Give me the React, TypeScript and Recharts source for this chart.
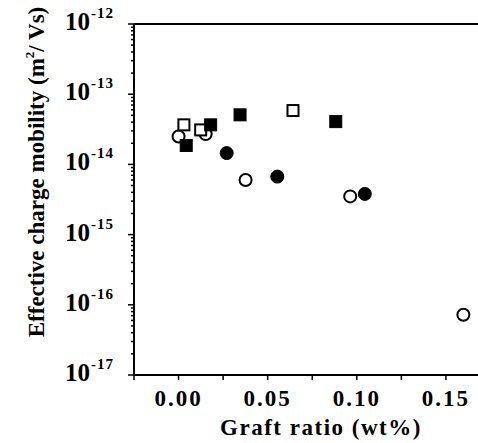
import React from 'react';
import { ScatterChart, Scatter, XAxis, YAxis, ReferenceLine } from 'recharts';

const openCircles = [
  { x: 0.0, y: 2.5e-14 },
  { x: 0.0152, y: 2.7e-14 },
  { x: 0.0376, y: 6.0e-15 },
  { x: 0.0963, y: 3.5e-15 },
  { x: 0.1598, y: 7.2e-17 },
];
const filledCircles = [
  { x: 0.027, y: 1.45e-14 },
  { x: 0.0554, y: 6.7e-15 },
  { x: 0.1045, y: 3.8e-15 },
];
const openSquares = [
  { x: 0.003, y: 3.66e-14 },
  { x: 0.0124, y: 3.1e-14 },
  { x: 0.0642, y: 5.85e-14 },
];
const filledSquares = [
  { x: 0.0043, y: 1.86e-14 },
  { x: 0.018, y: 3.66e-14 },
  { x: 0.0345, y: 5.08e-14 },
  { x: 0.0882, y: 4.07e-14 },
];

const decadeExponents = [-17, -16, -15, -14, -13, -12];
const minorMultipliers = [2, 3, 4, 5, 6, 7, 8, 9];
const xMajorTicks = [0, 0.05, 0.1, 0.15];
const xMinorTicks = [-0.025, 0.025, 0.075, 0.125];
const xTickLabels = ['0.00', '0.05', '0.10', '0.15'];

const yTicks: number[] = [];
decadeExponents.forEach((e) => {
  yTicks.push(Math.pow(10, e));
  if (e < -12) minorMultipliers.forEach((m) => yTicks.push(m * Math.pow(10, e)));
});
const xTicks = [...xMajorTicks, ...xMinorTicks].sort((a, b) => a - b);

const FONT = '"Liberation Serif", "Times New Roman", serif';

const YTick = (props: any) => {
  const { y, payload } = props;
  const v = payload.value;
  const e = Math.round(Math.log10(v));
  const isMajor = Math.abs(v - Math.pow(10, e)) / v < 1e-6;
  const axisX = 134;
  return (
    <g>
      <line x1={axisX - (isMajor ? 6 : 3)} x2={axisX} y1={y} y2={y} stroke="#000" strokeWidth={1.5} />
      {isMajor && (
        <text x={114} y={y + 6} textAnchor="end" fontFamily={FONT} fontWeight="bold" fill="#000">
          <tspan fontSize={25}>10</tspan>
          <tspan fontSize={15} dy={-12} dx={1} letterSpacing={1}>{String(e)}</tspan>
        </text>
      )}
    </g>
  );
};

const XTick = (props: any) => {
  const { x, payload } = props;
  const v = payload.value;
  const idx = xMajorTicks.findIndex((t) => Math.abs(t - v) < 1e-9);
  const axisY = 375;
  return (
    <g>
      <line x1={x} x2={x} y1={axisY} y2={axisY + 5} stroke="#000" strokeWidth={1.5} />
      {idx >= 0 && (
        <text x={x} y={axisY + 31} textAnchor="middle" fontFamily={FONT} fontWeight="bold" fontSize={23} letterSpacing={2} fill="#000">
          {xTickLabels[idx]}
        </text>
      )}
    </g>
  );
};

const OpenCircle = (p: any) => <circle cx={p.cx} cy={p.cy} r={6} fill="#fff" stroke="#000" strokeWidth={2} />;
const FilledCircle = (p: any) => <circle cx={p.cx} cy={p.cy} r={6.5} fill="#000" stroke="#000" strokeWidth={1} />;
const OpenSquare = (p: any) => <rect x={p.cx - 5.5} y={p.cy - 5.5} width={11} height={11} fill="#fff" stroke="#000" strokeWidth={2} />;
const FilledSquare = (p: any) => <rect x={p.cx - 6} y={p.cy - 6} width={12} height={12} fill="#000" stroke="#000" strokeWidth={1} />;

export default function App() {
  return (
    <div style={{ position: 'absolute', left: 0, top: 0, width: 478, height: 443, background: '#fff' }}>
      <ScatterChart width={478} height={443} margin={{ top: 24, right: 0, bottom: 0, left: 0 }}>
        <XAxis
          type="number"
          dataKey="x"
          domain={[-0.025, 0.168]}
          ticks={xTicks}
          allowDataOverflow
          axisLine={{ stroke: '#000', strokeWidth: 2 }}
          tickLine={false}
          tick={<XTick />}
          interval={0}
          height={68}
        />
        <YAxis
          type="number"
          dataKey="y"
          scale="log"
          domain={[1e-17, 1e-12]}
          ticks={yTicks}
          allowDataOverflow
          axisLine={{ stroke: '#000', strokeWidth: 2 }}
          tickLine={false}
          tick={<YTick />}
          interval={0}
          width={134}
        />
        <ReferenceLine y={1e-12} stroke="#000" strokeWidth={2} />
        <Scatter data={openCircles} shape={<OpenCircle />} isAnimationActive={false} />
        <Scatter data={filledCircles} shape={<FilledCircle />} isAnimationActive={false} />
        <Scatter data={openSquares} shape={<OpenSquare />} isAnimationActive={false} />
        <Scatter data={filledSquares} shape={<FilledSquare />} isAnimationActive={false} />
        <text x={321} y={435} textAnchor="middle" fontFamily={FONT} fontWeight="bold" fontSize={23} letterSpacing={1.5} fill="#000">
          Graft ratio (wt%)
        </text>
        <text
          x={0}
          y={0}
          transform="translate(44,172) rotate(-90)"
          textAnchor="middle"
          fontFamily={FONT}
          fontWeight="bold"
          fontSize={23}
          fill="#000"
        >
          Effective charge mobility (m<tspan fontSize={13} dy={-10}>2</tspan>
          <tspan dy={10}>/ Vs)</tspan>
        </text>
      </ScatterChart>
    </div>
  );
}
